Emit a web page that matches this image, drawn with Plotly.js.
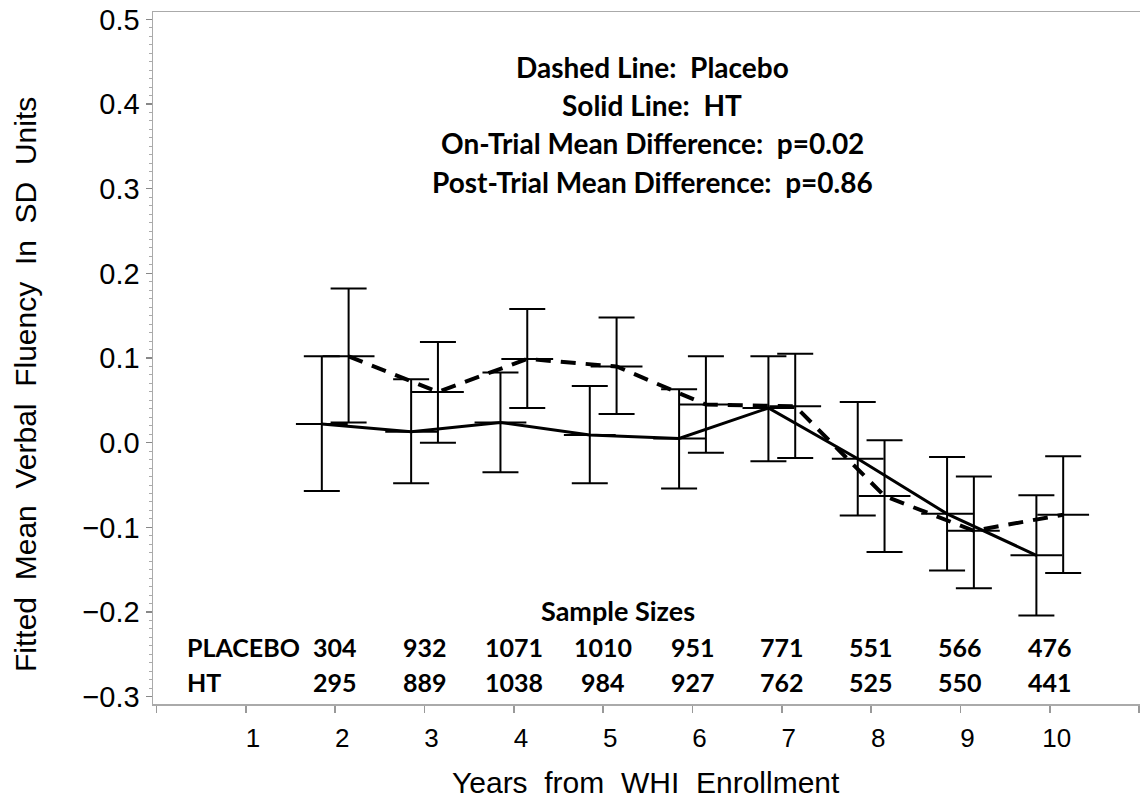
<!DOCTYPE html>
<html>
<head>
<meta charset="utf-8">
<script src="https://cdn.plot.ly/plotly-3.0.1.min.js"></script>
<style>
html,body{margin:0;padding:0;background:#fff;}
#chart{width:1140px;height:808px;}
</style>
</head>
<body>
<div id="chart"></div>
<script>
// ---- data ----
var years = [2, 3, 4, 5, 6, 7, 8, 9, 10];
var htMean  = [0.022, 0.013, 0.024, 0.009, 0.005, 0.041, -0.019, -0.084, -0.133];
var htUpper = [0.102, 0.075, 0.083, 0.067, 0.063, 0.102, 0.048, -0.017, -0.062];
var htLower = [-0.057, -0.048, -0.035, -0.048, -0.054, -0.022, -0.086, -0.151, -0.204];
var plMean  = [0.102, 0.060, 0.099, 0.090, 0.045, 0.043, -0.063, -0.104, -0.085];
var plUpper = [0.182, 0.119, 0.158, 0.148, 0.102, 0.105, 0.003, -0.040, -0.016];
var plLower = [0.024, 0.000, 0.041, 0.034, -0.012, -0.018, -0.129, -0.172, -0.154];
var nPlacebo = [304, 932, 1071, 1010, 951, 771, 551, 566, 476];
var nHT      = [295, 889, 1038, 984, 927, 762, 525, 550, 441];
var xTickVals = [0, 1, 2, 3, 4, 5, 6, 7, 8, 9, 10, 11];
var xTickText = ['', '1', '2', '3', '4', '5', '6', '7', '8', '9', '10', ''];
var infoLines = [
  'Dashed Line:\u00a0 Placebo',
  'Solid Line:\u00a0 HT',
  'On-Trial Mean Difference:\u00a0 p=0.02',
  'Post-Trial Mean Difference:\u00a0 p=0.86'
];
var rowLabels = ['PLACEBO', 'HT'];

// ---- build ----
var offset = 0.15;
function sub(a, b){ return a.map(function(v,i){ return +(v - b[i]).toFixed(4); }); }

var htTrace = {
  type: 'scatter', mode: 'lines+markers', name: 'HT',
  x: years.map(function(y){ return y - offset; }),
  y: htMean,
  line: {color: '#000', width: 3},
  marker: {symbol: 'line-ew', size: 37, color: '#000', line: {color: '#000', width: 2}},
  error_y: {type: 'data', symmetric: false, array: sub(htUpper, htMean), arrayminus: sub(htMean, htLower),
            width: 18, thickness: 2, color: '#000'},
  showlegend: false, hoverinfo: 'skip'
};
var plTrace = {
  type: 'scatter', mode: 'lines+markers', name: 'Placebo',
  x: years.map(function(y){ return y + offset; }),
  y: plMean,
  line: {color: '#000', width: 4, dash: '15px,10px'},
  marker: {symbol: 'line-ew', size: 37, color: '#000', line: {color: '#000', width: 2}},
  error_y: {type: 'data', symmetric: false, array: sub(plUpper, plMean), arrayminus: sub(plMean, plLower),
            width: 18, thickness: 2, color: '#000'},
  showlegend: false, hoverinfo: 'skip'
};

function bold(size){ return {family: 'Lato, "Open Sans", sans-serif', size: size, color: '#000', weight: 'bold'}; }
var annotations = [];
var infoY = [0.9205, 0.8656, 0.8107, 0.7543];
infoLines.forEach(function(t, i){
  annotations.push({xref: 'paper', yref: 'paper', x: 0.506, y: infoY[i], text: '<b>' + t + '</b>',
    showarrow: false, xanchor: 'center', yanchor: 'middle', font: bold(28)});
});
annotations.push({xref: 'paper', yref: 'paper', x: 0.471, y: 0.1344, text: '<b>Sample Sizes</b>',
  showarrow: false, xanchor: 'center', yanchor: 'middle', font: bold(27)});
var rowY = [0.0828, 0.0314];
rowLabels.forEach(function(t, i){
  annotations.push({xref: 'paper', yref: 'paper', x: 0.0324, y: rowY[i], text: '<b>' + t + '</b>',
    showarrow: false, xanchor: 'left', yanchor: 'middle', font: bold(25)});
});
[nPlacebo, nHT].forEach(function(arr, r){
  arr.forEach(function(n, i){
    annotations.push({xref: 'x', yref: 'paper', x: years[i], y: rowY[r], text: '<b>' + n + '</b>',
      showarrow: false, xanchor: 'center', yanchor: 'middle', font: bold(25)});
  });
});
// axis titles
var axFont = {family: '"Liberation Sans", Arial, sans-serif', size: 30, color: '#000'};
annotations.push({xref: 'paper', yref: 'paper', x: 0.4995, y: -0.114, text: 'Years\u00a0 from\u00a0 WHI\u00a0 Enrollment',
  showarrow: false, xanchor: 'center', yanchor: 'middle', font: axFont});
annotations.push({xref: 'paper', yref: 'paper', x: -0.129, y: 0.462, text: 'Fitted\u00a0 Mean\u00a0 Verbal\u00a0 Fluency\u00a0 In\u00a0 SD\u00a0 Units',
  showarrow: false, xanchor: 'center', yanchor: 'middle', textangle: -90, font: axFont});

var layout = {
  width: 1140, height: 808,
  margin: {l: 153, r: 0, t: 12, b: 104, pad: 0},
  paper_bgcolor: '#fff', plot_bgcolor: '#fff',
  showlegend: false,
  xaxis: {
    range: [-0.04, 11.01], tickmode: 'array', tickvals: xTickVals, ticktext: xTickText,
    ticks: 'outside', ticklen: 7, tickwidth: 1.5, tickcolor: '#999',
    showline: true, linecolor: '#aaa', linewidth: 1.5, mirror: true,
    showgrid: false, zeroline: false,
    ticklabelshift: 7, ticklabelstandoff: 3,
    tickfont: {family: '"Liberation Sans", Arial, sans-serif', size: 26, color: '#000'}
  },
  yaxis: {
    range: [-0.3086, 0.5087], tickmode: 'linear', tick0: -0.3, dtick: 0.1, tickformat: '.1f',
    ticks: 'outside', ticklen: 6, tickwidth: 1.5, tickcolor: '#888',
    minor: {dtick: 0.01, tick0: 0, ticks: 'outside', ticklen: 3, tickcolor: '#aaa', tickwidth: 1},
    showline: true, linecolor: '#aaa', linewidth: 1.5,
    showgrid: false, zeroline: false,
    tickfont: {family: '"Liberation Sans", Arial, sans-serif', size: 29, color: '#000'}
  },
  annotations: annotations
};

Plotly.newPlot('chart', [htTrace, plTrace], layout, {displayModeBar: false, staticPlot: true});
</script>
</body>
</html>
